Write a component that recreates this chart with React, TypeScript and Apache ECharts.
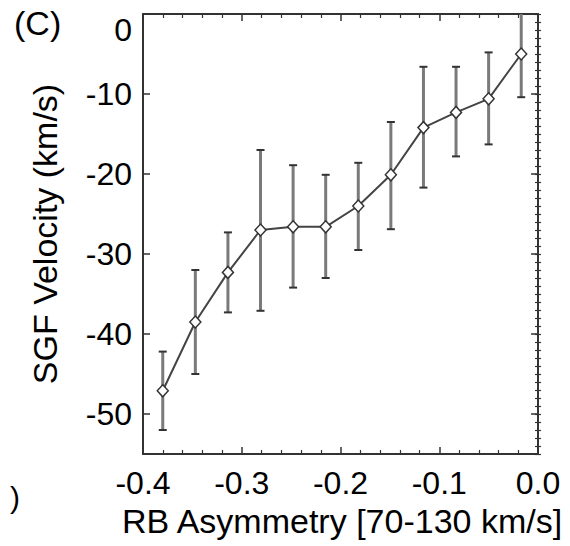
import React, { useEffect, useRef } from "react";
import * as echarts from "echarts";

const asymmetry = [-0.380, -0.347, -0.314, -0.281, -0.248, -0.215, -0.182, -0.149, -0.116, -0.083, -0.050, -0.017];
const velocity = [-47.1, -38.5, -32.3, -27.0, -26.6, -26.6, -24.0, -20.1, -14.2, -12.3, -10.6, -5.0];
const upperErr = [-42.2, -32.0, -27.3, -17.0, -18.9, -20.1, -18.6, -13.5, -6.6, -6.6, -4.8, 0.4];
const lowerErr = [-52.0, -45.0, -37.3, -37.1, -34.2, -33.0, -29.5, -26.9, -21.7, -17.8, -16.3, -10.4];

const panelLabel = "(C)";
const cutLabel = ")";
const xTitle = "RB Asymmetry [70-130 km/s]";
const yTitle = "SGF Velocity (km/s)";

const FONT = "'Liberation Sans', Arial, Helvetica, sans-serif";
const AXIS_COLOR = "#333";

export default function App() {
  const ref = useRef<HTMLDivElement>(null);

  useEffect(() => {
    if (!ref.current) return;
    const chart = echarts.init(ref.current, undefined, { renderer: "svg" });

    const linePoints = asymmetry.map((x, i) => [x, velocity[i]]);
    const errPoints = asymmetry.map((x, i) => [x, lowerErr[i], upperErr[i]]);

    const axisLine = { show: true, onZero: false, lineStyle: { color: AXIS_COLOR, width: 2 } };
    const majorTick = { show: true, inside: true, length: 7, lineStyle: { color: AXIS_COLOR, width: 1.5 } };
    const minorTickStyle = { color: AXIS_COLOR, width: 1.2 };

    const option: any = {
      animation: false,
      backgroundColor: "#fff",
      grid: { left: 143, right: 32, top: 14, bottom: 92, containLabel: false },
      xAxis: [
        {
          type: "value",
          position: "bottom",
          min: -0.4,
          max: 0,
          interval: 0.1,
          axisLine,
          axisTick: majorTick,
          minorTick: { show: true, splitNumber: 5, length: 4, lineStyle: minorTickStyle },
          splitLine: { show: false },
          axisLabel: {
            show: true,
            margin: 13,
            fontSize: 32,
            fontFamily: FONT,
            color: "#000",
            formatter: (v: number) => v.toFixed(1),
          },
        },
        {
          type: "value",
          position: "top",
          min: -0.4,
          max: 0,
          interval: 0.1,
          axisLine,
          axisTick: majorTick,
          minorTick: { show: true, splitNumber: 5, length: 4, lineStyle: minorTickStyle },
          splitLine: { show: false },
          axisLabel: { show: false },
        },
      ],
      yAxis: [
        {
          type: "value",
          position: "left",
          min: -55,
          max: 0,
          splitNumber: 5,
          axisLine,
          axisTick: majorTick,
          splitLine: { show: false },
          axisLabel: {
            show: true,
            margin: 11,
            fontSize: 32,
            fontFamily: FONT,
            color: "#000",
            showMinLabel: false,
            verticalAlignMaxLabel: "top",
          },
        },
        {
          type: "value",
          position: "left",
          min: -55,
          max: 0,
          interval: 1,
          axisLine: { show: false },
          axisTick: { show: true, inside: true, length: 3, lineStyle: minorTickStyle },
          splitLine: { show: false },
          axisLabel: { show: false },
        },
        {
          type: "value",
          position: "right",
          min: -55,
          max: 0,
          splitNumber: 5,
          axisLine,
          axisTick: majorTick,
          splitLine: { show: false },
          axisLabel: { show: false },
        },
        {
          type: "value",
          position: "right",
          min: -55,
          max: 0,
          interval: 1,
          axisLine: { show: false },
          axisTick: { show: true, inside: true, length: 3, lineStyle: minorTickStyle },
          splitLine: { show: false },
          axisLabel: { show: false },
        },
      ],
      series: [
        {
          type: "custom",
          xAxisIndex: 0,
          yAxisIndex: 0,
          clip: true,
          z: 2,
          data: errPoints,
          renderItem: (params: any, api: any) => {
            const x = api.value(0);
            const lo = api.coord([x, api.value(1)]);
            const hi = api.coord([x, api.value(2)]);
            const cap = 4;
            return {
              type: "group",
              children: [
                {
                  type: "line",
                  shape: { x1: lo[0], y1: lo[1], x2: hi[0], y2: hi[1] },
                  style: { stroke: "#7a7a7a", lineWidth: 3 },
                },
                {
                  type: "line",
                  shape: { x1: lo[0] - cap, y1: lo[1], x2: lo[0] + cap, y2: lo[1] },
                  style: { stroke: "#333", lineWidth: 2 },
                },
                {
                  type: "line",
                  shape: { x1: hi[0] - cap, y1: hi[1], x2: hi[0] + cap, y2: hi[1] },
                  style: { stroke: "#333", lineWidth: 2 },
                },
              ],
            };
          },
        },
        {
          type: "line",
          xAxisIndex: 0,
          yAxisIndex: 0,
          z: 3,
          data: linePoints,
          symbol: "diamond",
          symbolSize: [11, 12],
          showSymbol: true,
          lineStyle: { color: "#444", width: 2 },
          itemStyle: { color: "#fff", borderColor: "#333", borderWidth: 1.5 },
        },
      ],
      graphic: [
        {
          type: "text",
          left: 14,
          top: 6,
          style: { text: panelLabel, fontSize: 34, fontFamily: FONT, fill: "#000" },
        },
        {
          type: "text",
          left: 10,
          top: 482,
          style: { text: cutLabel, fontSize: 30, fontFamily: FONT, fill: "#000" },
        },
        {
          type: "text",
          x: 342,
          y: 521,
          style: {
            text: xTitle,
            fontSize: 34,
            fontFamily: FONT,
            fill: "#000",
            align: "center",
            verticalAlign: "middle",
          },
        },
        {
          type: "text",
          x: 45,
          y: 234,
          rotation: Math.PI / 2,
          style: {
            text: yTitle,
            fontSize: 34,
            fontFamily: FONT,
            fill: "#000",
            align: "center",
            verticalAlign: "middle",
          },
        },
      ],
    };

    chart.setOption(option);
    return () => chart.dispose();
  }, []);

  return (
    <div
      ref={ref}
      style={{ position: "fixed", left: 0, top: 0, width: 570, height: 546, background: "#fff" }}
    />
  );
}
